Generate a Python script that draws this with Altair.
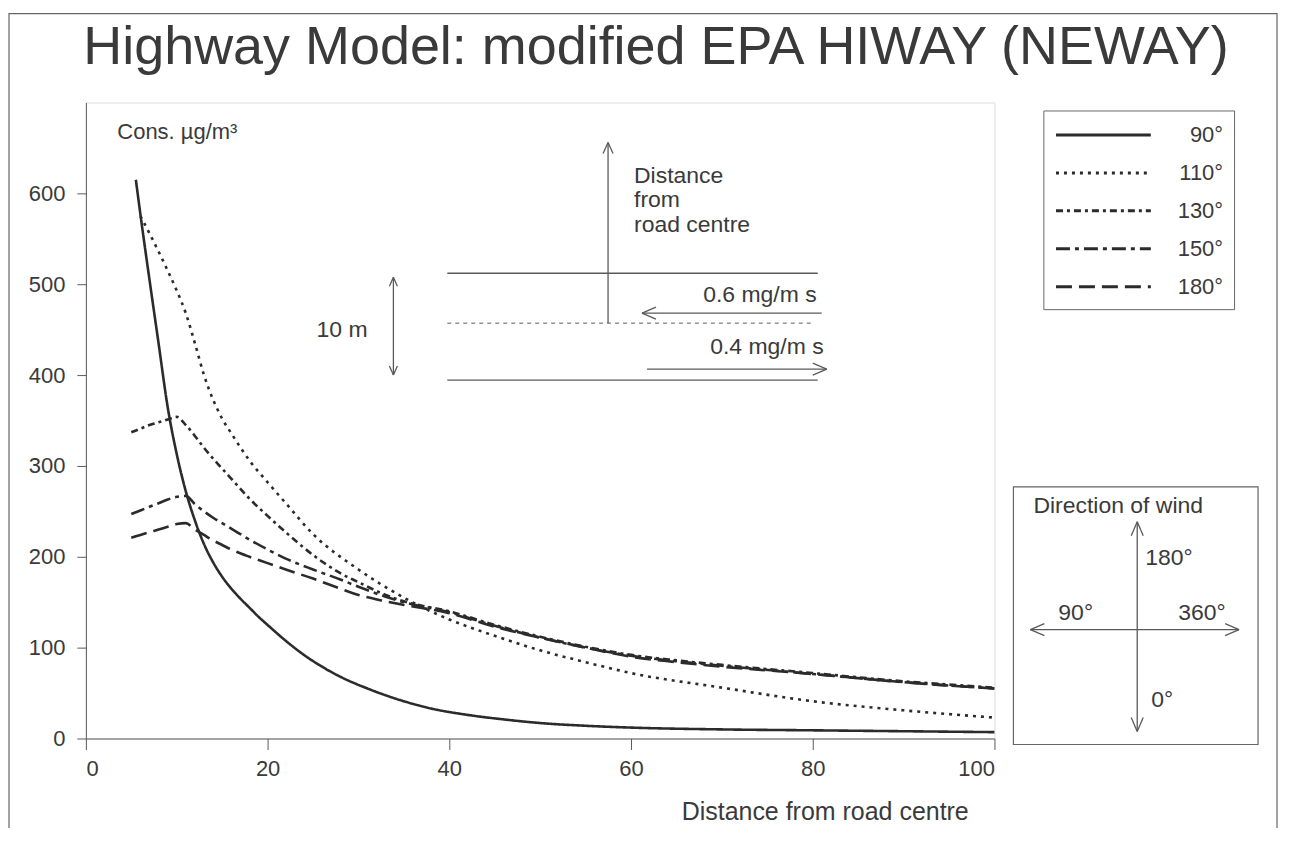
import altair as alt
import pandas as pd

# ---------------- data ----------------
series_names = ["90°", "110°", "130°", "150°", "180°"]

x90 = [5.5, 6, 7, 8, 9, 10, 11, 12, 13, 14, 15, 16, 17, 18, 19, 20, 22, 24, 26, 28, 31, 35, 38, 42, 46, 50, 55, 60, 70, 80, 90, 100]
y90 = [615, 577, 505, 435, 365, 313, 272, 240, 214, 194, 178, 165, 154, 144, 134, 125, 107.5, 92, 79, 68, 55, 41, 33, 26, 21, 17, 14, 12, 10, 9, 8, 7]

x110 = [6, 7, 8, 9, 10, 11, 12, 13, 14, 15, 16, 18, 20, 22, 25, 30, 35, 40, 45, 50, 55, 60, 70, 80, 90, 100]
y110 = [575, 556, 536, 515, 493, 468, 435, 400, 373, 352, 336, 306, 282, 259, 225, 186, 155, 131, 113, 97, 84, 72, 56, 41, 31, 23]

x_rest = [5, 6, 7, 8, 9, 10, 11, 12, 13, 14, 15, 16, 18, 20, 22, 25, 28, 30, 33, 35, 40, 45, 50, 55, 60, 65, 70, 80, 90, 100]
y130 = [337, 341, 345, 348, 351, 354, 345, 333, 320, 308, 297, 286, 264, 245, 227, 202, 182, 172, 158, 151, 140, 125, 112, 101, 92, 86, 81, 72, 63, 56]
y150 = [247, 251, 255, 259, 263, 266, 267, 258, 250, 243, 237, 231, 219, 208, 198, 186, 175, 167, 156, 150, 139, 124, 111, 100, 91, 85, 80, 71, 62, 55]
y180 = [221, 224, 227, 230, 233, 236, 237, 230, 224, 218, 213, 208, 200, 193, 186, 176, 165, 158, 151, 147, 138, 123, 111, 100, 90, 84, 79, 71, 62, 55]

x_ticks = [0, 20, 40, 60, 80, 100]
y_ticks = [0, 100, 200, 300, 400, 500, 600]

rows = []
for name, xs, ys in [("90°", x90, y90), ("110°", x110, y110), ("130°", x_rest, y130),
                     ("150°", x_rest, y150), ("180°", x_rest, y180)]:
    for a, b in zip(xs, ys):
        rows.append({"dist": a, "conc": b, "angle": name})
df = pd.DataFrame(rows)

# ---------------- styling / layout ----------------
FONT = "Liberation Sans"
INK = "#2b2b2b"
TXT = "#3a3a3a"
GREY = "#5a5a5a"
W, H = 910, 637

dash_range = [[1, 0], [3, 5], [7, 4, 3, 4], [14, 5, 4, 5], [16, 7]]

lines = alt.Chart(df).mark_line(color=INK, strokeWidth=2.6, interpolate="monotone").encode(
    x=alt.X("dist:Q", scale=alt.Scale(domain=[0, 100], nice=False, zero=True),
            axis=alt.Axis(values=x_ticks, title="Distance from road centre", grid=False,
                          tickSize=11, labelPadding=9, labelFontSize=22, titleFontSize=25,
                          titleFontWeight="normal", titleX=740, titleY=81,
                          titleBaseline="alphabetic", titleAlign="center",
                          domainColor=GREY, tickColor=GREY, labelColor=TXT, titleColor=TXT,
                          labelFont=FONT, titleFont=FONT)),
    y=alt.Y("conc:Q", scale=alt.Scale(domain=[0, 700], nice=False),
            axis=alt.Axis(values=y_ticks, title="Cons. µg/m³", grid=False, tickSize=9,
                          labelPadding=12, labelFontSize=22, titleFontSize=22,
                          titleFontWeight="normal", titleAngle=0, titleAlign="left",
                          titleBaseline="alphabetic", titleX=31, titleY=36,
                          domainColor=GREY, tickColor=GREY, labelColor=TXT, titleColor=TXT,
                          labelFont=FONT, titleFont=FONT)),
    strokeDash=alt.StrokeDash("angle:N", sort=series_names,
                              scale=alt.Scale(domain=series_names, range=dash_range),
                              legend=alt.Legend(title=None, orient="none", legendX=959, legendY=8,
                                                symbolType="M-1,0H7", symbolSize=564,
                                                symbolStrokeWidth=3, symbolStrokeColor=INK,
                                                symbolFillColor="transparent",
                                                labelAlign="right", labelOffset=142,
                                                labelFontSize=22, labelColor=TXT, labelFont=FONT,
                                                rowPadding=13, padding=11,
                                                strokeColor="#666", fillColor="white")),
    detail="angle:N",
)

# ---------------- annotation geometry (pixels, relative to plot origin) ----------------
def chevron(tx, ty, dx, dy, L=11, Wd=5):
    px, py = -dy, dx
    bx, by = tx - L * dx, ty - L * dy
    return [(tx, ty, bx + Wd * px, by + Wd * py), (tx, ty, bx - Wd * px, by - Wd * py)]

segs = []
# road diagram
segs += [(362, 171, 733, 171), (362, 278, 733, 278)]
segs += [(523, 221, 523, 40)] + chevron(523, 40, 0, -1)
segs += [(737, 211, 557, 211)] + chevron(557, 211, -1, 0, L=14, Wd=6)
segs += [(562, 267, 742, 267)] + chevron(742, 267, 1, 0, L=14, Wd=6)
segs += [(308, 175, 308, 273)] + chevron(308, 175, 0, -1, L=9, Wd=4) + chevron(308, 273, 0, 1, L=9, Wd=4)
# wind direction
segs += [(1053, 420, 1053, 630)] + chevron(1053, 420, 0, -1, L=14, Wd=6) + chevron(1053, 630, 0, 1, L=14, Wd=6)
segs += [(946, 528, 1155, 528)] + chevron(946, 528, -1, 0, L=14, Wd=6) + chevron(1155, 528, 1, 0, L=14, Wd=6)
seg_df = pd.DataFrame(segs, columns=["x1", "y1", "x2", "y2"])

seg_layer = alt.Chart(seg_df).mark_rule(color=GREY, strokeWidth=1.3).encode(
    x=alt.X("x1:Q", scale=None), y=alt.Y("y1:Q", scale=None), x2="x2:Q", y2="y2:Q")

mid_df = pd.DataFrame([(362, 221, 727, 221)], columns=["x1", "y1", "x2", "y2"])
mid_layer = alt.Chart(mid_df).mark_rule(color=GREY, strokeWidth=1, strokeDash=[4, 4]).encode(
    x=alt.X("x1:Q", scale=None), y=alt.Y("y1:Q", scale=None), x2="x2:Q", y2="y2:Q")

box_df = pd.DataFrame([(929, 385, 1174, 643), (-77, -89, 1193, 820)],
                      columns=["x1", "y1", "x2", "y2"])
box_layer = alt.Chart(box_df).mark_rect(fill="transparent", stroke="#666", strokeWidth=1.2).encode(
    x=alt.X("x1:Q", scale=None), y=alt.Y("y1:Q", scale=None), x2="x2:Q", y2="y2:Q")

texts = pd.DataFrame([
    (549, 81, "Distance", "left"),
    (549, 105, "from", "left"),
    (549, 130, "road centre", "left"),
    (732, 200, "0.6 mg/m s", "right"),
    (739, 252, "0.4 mg/m s", "right"),
    (231, 235, "10 m", "left"),
    (949, 411, "Direction of wind", "left"),
    (1061, 463, "180°", "left"),
    (974, 518, "90°", "left"),
    (1094, 518, "360°", "left"),
    (1067, 605, "0°", "left"),
], columns=["x", "y", "t", "al"])

txt_left = alt.Chart(texts[texts.al == "left"]).mark_text(
    align="left", baseline="alphabetic", fontSize=23, font=FONT, color=TXT).encode(
    x=alt.X("x:Q", scale=None), y=alt.Y("y:Q", scale=None), text="t:N")
txt_right = alt.Chart(texts[texts.al == "right"]).mark_text(
    align="right", baseline="alphabetic", fontSize=23, font=FONT, color=TXT).encode(
    x=alt.X("x:Q", scale=None), y=alt.Y("y:Q", scale=None), text="t:N")

chart = alt.layer(box_layer, seg_layer, mid_layer, txt_left, txt_right, lines).properties(
    width=W, height=H,
    autosize=alt.AutoSizeParams(type="none"),
    padding={"left": 78, "top": 94, "right": 287, "bottom": 89},
    title=alt.TitleParams("Highway Model: modified EPA HIWAY (NEWAY)", fontSize=54,
                          font=FONT, fontWeight="normal", color=TXT, anchor="middle",
                          dx=116, dy=139, offset=34, baseline="alphabetic"),
).configure_view(stroke="#555555", strokeWidth=1.5).configure(font=FONT, background="white")

chart.save("out.html", embed_options={"renderer": "svg", "actions": False})
